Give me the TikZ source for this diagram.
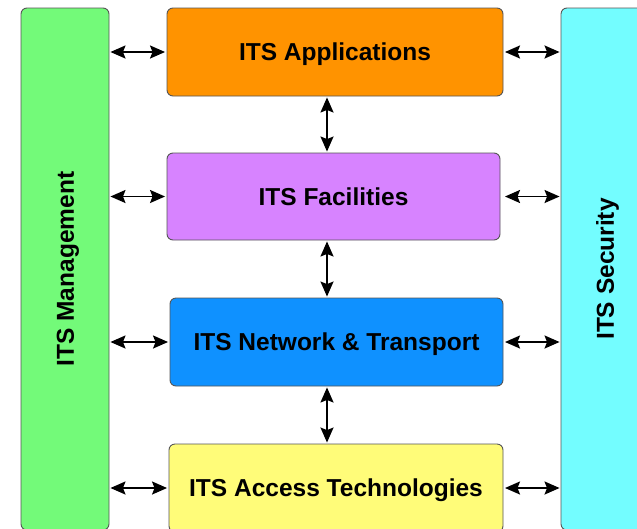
\documentclass[tikz,border=0pt]{standalone}
\usepackage{fontspec}
\setmainfont{Liberation Sans}
\usetikzlibrary{arrows.meta}
\definecolor{cTangerine}{HTML}{FF9300}
\definecolor{cLavender}{HTML}{D783FF}
\definecolor{cAqua}{HTML}{0F91FF}
\definecolor{cBanana}{HTML}{FFFC79}
\definecolor{cFlora}{HTML}{73FA79}
\definecolor{cIce}{HTML}{73FDFF}
\definecolor{cEdge}{HTML}{555555}
\tikzset{
  layerbox/.style={draw=cEdge, line width=0.9pt, rounded corners=6pt,
    inner sep=0pt, text height=17.5pt, text depth=0pt,
    font=\bfseries\fontsize{24.5}{28}\selectfont},
  sidebar/.style={layerbox, minimum width=88pt, minimum height=522pt},
  sidelabel/.style={rotate=90, text height=17.5pt, text depth=0pt,
    font=\bfseries\fontsize{24.5}{28}\selectfont},
  biarrow/.style={line width=1.8pt, {Stealth[length=15pt,width=13pt,inset=2.5pt]}-{Stealth[length=15pt,width=13pt,inset=2.5pt]}}
}
\begin{document}
\begin{tikzpicture}[x=1pt,y=-1pt]
\useasboundingbox (0,0) rectangle (637,528);
\fill[white] (0,0) rectangle (637,528);
% side bars
\node[sidebar, fill=cFlora] (mgmt) at (65,269) {};
\node[sidelabel] (mgmtlbl) at (mgmt.center) {ITS Management};
\node[sidebar, fill=cIce] (sec) at (605,269) {};
\node[sidelabel] (seclbl) at (sec.center) {ITS Security};
% layers
\node[layerbox, fill=cTangerine, minimum width=336pt, minimum height=88pt] (app) at (335,52) {ITS Applications};
\node[layerbox, fill=cLavender, minimum width=333pt, minimum height=87pt] (fac) at (333.5,196.5) {ITS Facilities};
\node[layerbox, fill=cAqua, minimum width=333pt, minimum height=88pt] (net) at (336.5,342) {ITS Network \& Transport};
\node[layerbox, fill=cBanana, minimum width=334pt, minimum height=88pt] (acc) at (336,488) {ITS Access Technologies};
% helper coordinates
\coordinate (r) at (505,0);
\coordinate (v) at (327,0);
% horizontal arrows
\foreach \n in {app,fac,net,acc}{
  \draw[biarrow, shorten <=1pt, shorten >=1.5pt] (mgmt.east |- \n.center) -- (\n.west);
  \draw[biarrow, shorten >=1pt] (r |- \n.center) -- (sec.west |- \n.center);
}
% vertical arrows
\draw[biarrow, shorten <=1pt, shorten >=1pt] (app.south -| v) -- (fac.north -| v);
\draw[biarrow, shorten <=1pt, shorten >=1pt] (fac.south -| v) -- (net.north -| v);
\draw[biarrow, shorten <=1pt, shorten >=1pt] (net.south -| v) -- (acc.north -| v);
\end{tikzpicture}
\end{document}
